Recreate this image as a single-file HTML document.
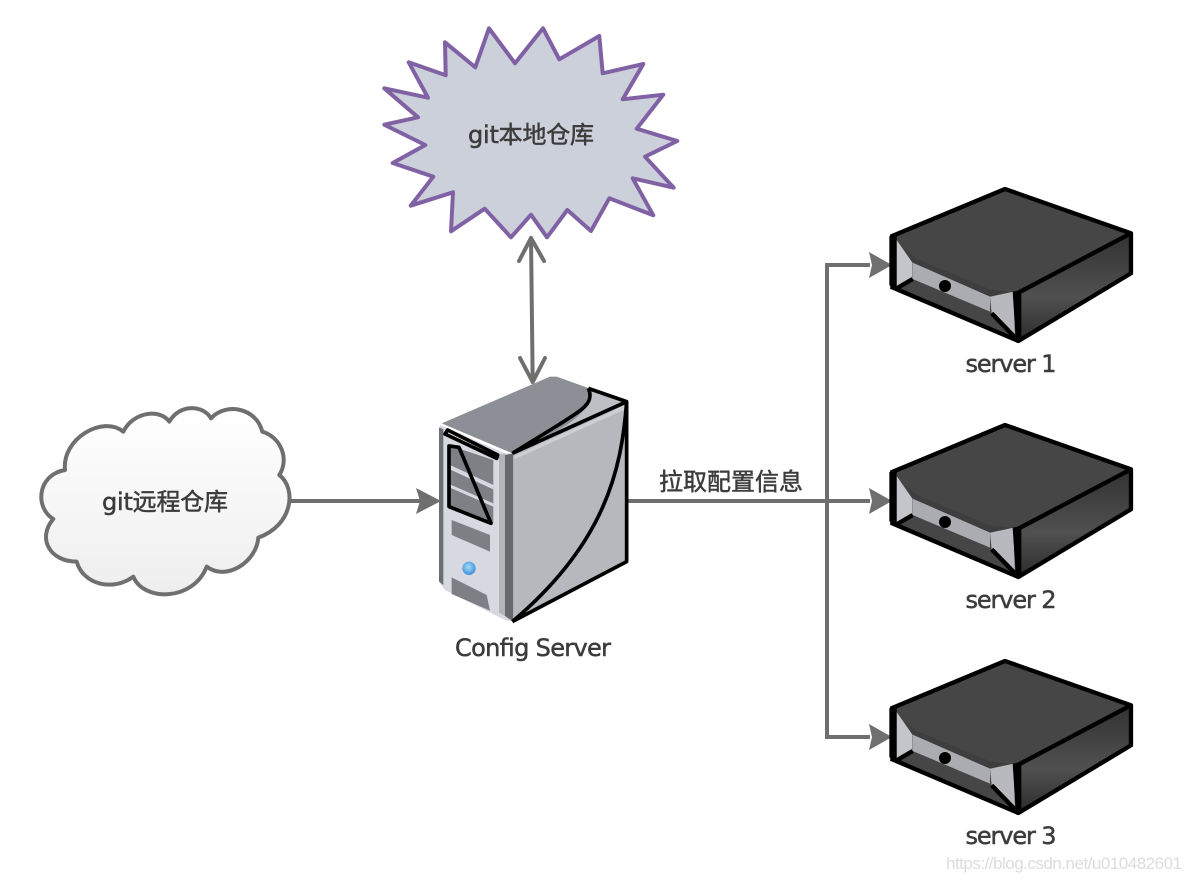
<!DOCTYPE html>
<html><head><meta charset="utf-8"><style>html,body{margin:0;padding:0;background:#fff}svg{display:block}text{font-family:"DejaVu Sans","Noto Sans CJK SC",sans-serif;fill:#3c3c3c;stroke:#3c3c3c;stroke-width:.5px}</style></head><body>
<svg width="1188" height="880" viewBox="0 0 1188 880" xmlns="http://www.w3.org/2000/svg">
<defs>
<linearGradient id="cl" x1="0" y1="0" x2="0" y2="1"><stop offset="0" stop-color="#fff"/><stop offset="1" stop-color="#eee"/></linearGradient>
<radialGradient id="bl" cx=".45" cy=".4" r=".6"><stop offset="0" stop-color="#a8dcf8"/><stop offset="1" stop-color="#3a8fd8"/></radialGradient>
<linearGradient id="sd" x1="0" y1="0" x2="0" y2="1"><stop offset="0" stop-color="#333"/><stop offset=".6" stop-color="#505050"/><stop offset="1" stop-color="#2e2e2e"/></linearGradient>
<g id="srv" transform="translate(880,180) scale(.3333)">
<path d="M30,170 375,27 755,160 755,280 415,485 60,332 30,320Z" fill="#464646"/>
<path d="M420,340 750,165 750,280 420,475Z" fill="url(#sd)"/>
<path d="M98,248 330,345 330,395 98,297Z" fill="#abacb1"/>
<path d="M50,180 97,248 97,297 50,325Z" fill="#c4c5ca"/>
<path d="M330,350 400,335 405,470 335,400Z" fill="#b8b9be"/>
<path d="M55,172 C70,205 90,228 130,245 L330,328 400,335 330,350 98,248Z" fill="#3e3e3e"/>
<circle cx="195" cy="318" r="18" fill="#000"/>
<path d="M398,335 424,330 424,482 408,482Z" fill="#000"/>
<path d="M28,168 50,160 50,325 34,322 28,315Z" fill="#000"/>
<path d="M32,170 375,27 753,160 753,280 415,483 60,332 32,320M753,160 415,338M50,325 98,297M335,400 405,472" fill="none" stroke="#000" stroke-width="13" stroke-linejoin="round"/>
</g>
</defs>
<path d="M489,28.3 515,63.3 543,28.3 559.3,59.3 599.3,36 602.7,73.3 643.3,64 622.7,99.3 663.3,94.7 636.7,128.7 677.3,141 645,156.7 673.7,187.7 632.7,178.3 653.3,215.3 609.3,198.3 591,231 567.3,210 547,237.3 531,214.7 511,237.3 484.7,208.7 451,231.3 453,192.3 410.7,205.7 433.3,176.7 392.7,163 425.3,145 384.3,124.7 418,117.3 384.3,88.3 428,97.7 408.7,62.3 445.7,75.3 445,42.3 475.3,67.3Z" fill="#ccd0da" stroke="#8062a4" stroke-width="4" stroke-linejoin="round"/>
<g transform="translate(30,395) scale(.3333)">
<path d="M105,225 C95,130 220,60 280,110 C310,50 390,40 418,80 C450,25 520,30 543,70 C590,20 680,40 697,110 C750,125 780,190 748,240 C800,280 790,390 685,428 C680,500 590,560 530,515 C490,620 340,620 310,545 C250,590 160,570 140,500 C60,500 20,430 70,372 C15,340 20,240 105,225Z" fill="url(#cl)" stroke="#6f6f6f" stroke-width="12" stroke-linejoin="round"/>
</g>
<g stroke="#6f6f6f" stroke-width="4" fill="none">
<path d="M290,501H420"/>
<path d="M628,501H870"/>
<path d="M870,265H827V737H870"/>
<path d="M531,238 532.7,382M519,261 531,238 544,261M520,358 532.7,382 545,358" stroke-linejoin="round" stroke-linecap="round"/>
</g>
<g fill="#6f6f6f">
<path d="M441,501 416,488 420,501 416,514Z"/>
<path d="M892,265 869,252 872,265 869,278Z"/>
<path d="M892,501 869,488 872,501 869,514Z"/>
<path d="M892,737 869,724 872,737 869,750Z"/>
</g>
<g transform="translate(425,370) scale(.3333)">
<path d="M50,160 375,20 395,20 605,95 262,250Z" fill="#8c9096"/>
<path d="M45,165 240,250 262,250 262,755 240,750 60,660 45,640Z" fill="#d6d9e0"/>
<path d="M42,172 55,178 55,645 42,635Z" fill="#6b6e73"/>
<path d="M222,255 240,250 240,738 222,728Z" fill="#b3b5ba"/>
<path d="M240,255 265,250 265,755 240,738Z" fill="#66696e"/>
<path d="M265,255 600,100 605,575 265,755Z" fill="#b5b8bd"/>
<path d="M268,258 600,105 600,118 268,268Z" fill="#ccced3"/>
<path d="M490,55 605,95 262,250 400,180 C470,140 505,100 490,55Z" fill="#bcbfc4"/>
<path d="M70,225 205,270 205,460 70,405Z" fill="#7d8085"/>
<path d="M68,282 205,345 205,358 68,295ZM68,340 205,400 205,410 68,350Z" fill="#d6d9e0"/>
<path d="M80,450 195,495 195,545 80,495Z" fill="#7d7f85"/>
<path d="M80,622 185,675 195,722 80,672Z" fill="#7d7f85"/>
<circle cx="132" cy="595" r="20" fill="url(#bl)"/>
<path d="M72,228 72,410 198,460 102,232Z" fill="none" stroke="#000" stroke-width="11" stroke-linejoin="round"/>
<path d="M68,180 218,255 215,265 60,192Z" fill="#f4f4f6" stroke="#000" stroke-width="11" stroke-linejoin="round"/>
<path d="M262,250 605,95 605,575 262,755M490,55 605,95M605,95 C590,300 540,520 262,755M490,55 C510,100 470,120 400,165 L262,250" fill="none" stroke="#000" stroke-width="11" stroke-linejoin="round"/>
</g>
<use href="#srv"/>
<use href="#srv" y="236"/>
<use href="#srv" y="472"/>
<text x="531" y="143" font-size="24" text-anchor="middle" textLength="126">git本地仓库</text>
<text x="165" y="510" font-size="24" text-anchor="middle" textLength="126">git远程仓库</text>
<text x="533" y="656" font-size="24" text-anchor="middle" textLength="156">Config Server</text>
<text x="731" y="490" font-size="24" text-anchor="middle" textLength="144">拉取配置信息</text>
<text x="1011" y="372" font-size="24" text-anchor="middle" textLength="91">server 1</text>
<text x="1011" y="608" font-size="24" text-anchor="middle" textLength="91">server 2</text>
<text x="1011" y="844" font-size="24" text-anchor="middle" textLength="91">server 3</text>
<text x="946" y="869" font-size="17" textLength="236" style="font-family:'Liberation Sans',sans-serif;fill:#dcdcdc;stroke:none">https://blog.csdn.net/u010482601</text>
</svg>
</body></html>
